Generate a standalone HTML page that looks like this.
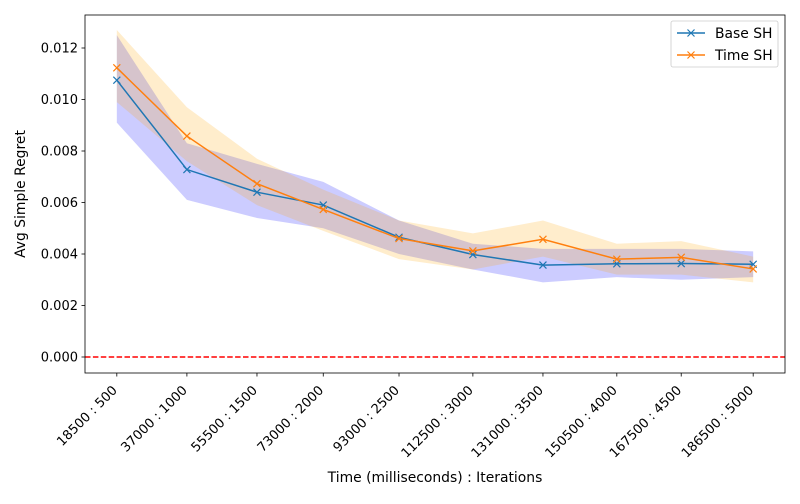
<!DOCTYPE html>
<html><head><meta charset="utf-8"><style>
body{margin:0;background:#fff;font-family:"DejaVu Sans",sans-serif}
svg text{font-family:"DejaVu Sans","Liberation Sans",sans-serif;fill:#000}
</style></head><body>
<svg id="chart" width="800" height="500"></svg>
<script>
const timesMs=[18500,37000,55500,73000,93000,112500,131000,150500,167500,186500];
const iterations=[500,1000,1500,2000,2500,3000,3500,4000,4500,5000];
const baseMean=[0.01075,0.00728,0.0064,0.0059,0.00465,0.00398,0.00357,0.00362,0.00363,0.0036];
const baseUpper=[0.0125,0.0083,0.0075,0.0068,0.0053,0.0044,0.0042,0.0042,0.0042,0.0041];
const baseLower=[0.0091,0.0061,0.0054,0.0050,0.0040,0.0034,0.0029,0.0031,0.0030,0.0031];
const timeMean=[0.01123,0.00858,0.00673,0.00573,0.0046,0.00412,0.00457,0.0038,0.00387,0.00342];
const timeUpper=[0.0127,0.0097,0.0077,0.0065,0.0053,0.0048,0.0053,0.0044,0.0045,0.0039];
const timeLower=[0.0099,0.0076,0.0059,0.0049,0.0038,0.0034,0.0039,0.0032,0.0032,0.0029];
const yTicks=[0,0.002,0.004,0.006,0.008,0.010,0.012];

const NS="http://www.w3.org/2000/svg";
const svg=document.getElementById('chart');
const L=85,R=785,T=15,B=373;
const xmin=timesMs[0],xmax=timesMs[timesMs.length-1],pad=(xmax-xmin)*0.05;
const xs=v=>L+(v-(xmin-pad))/((xmax+pad)-(xmin-pad))*(R-L);
const ys=v=>357-v/0.012*(357-48);
function el(tag,attrs,parent){const e=document.createElementNS(NS,tag);for(const k in attrs)e.setAttribute(k,attrs[k]);(parent||svg).appendChild(e);return e;}

function band(up,lo,fill,name){
  let d='M'+timesMs.map((t,i)=>xs(t)+','+ys(up[i])).join('L');
  for(let i=timesMs.length-1;i>=0;i--)d+='L'+xs(timesMs[i])+','+ys(lo[i]);
  const p=el('path',{d:d+'Z',fill:fill,'fill-opacity':0.2});
  
  
}
band(baseUpper,baseLower,'#0000ff','base-sh-band');
band(timeUpper,timeLower,'#ffa500','time-sh-band');

const zl=el('line',{x1:L,x2:R,y1:ys(0),y2:ys(0),stroke:'#ff0000','stroke-width':1.5,'stroke-dasharray':'5.5,2.4'});



function series(vals,color,name){
  const g=el('g',{});
  
  
  el('polyline',{points:timesMs.map((t,i)=>xs(t)+','+ys(vals[i])).join(' '),fill:'none',stroke:color,'stroke-width':1.5},g);
  timesMs.forEach((t,i)=>{const x=xs(t),y=ys(vals[i]);
    const m=el('path',{d:`M${x-3.5},${y-3.5}L${x+3.5},${y+3.5}M${x-3.5},${y+3.5}L${x+3.5},${y-3.5}`,stroke:color,'stroke-width':1.2},g);
    
    });
}
series(baseMean,'#1f77b4','base-sh-line');
series(timeMean,'#ff7f0e','time-sh-line');

const frame=el('rect',{x:L,y:T,width:R-L,height:B-T,fill:'none',stroke:'#000','stroke-width':0.8});



yTicks.forEach(v=>{const y=ys(v);
  el('line',{x1:L-3.5,x2:L,y1:y,y2:y,stroke:'#000','stroke-width':0.8});
  const t=el('text',{x:L-7,y:y+4.5,'text-anchor':'end','font-size':13});
  t.textContent=v.toFixed(3);
  
  });
timesMs.forEach((tm,i)=>{const x=xs(tm);
  el('line',{x1:x,x2:x,y1:B,y2:B+3.5,stroke:'#000','stroke-width':0.8});
  const ax=x+1,ay=B+18;
  const t=el('text',{x:ax,y:ay,'text-anchor':'end','font-size':13,transform:`rotate(-45 ${ax} ${ay})`});
  t.textContent=tm+' : '+iterations[i];
  
  });

const xt=el('text',{x:(L+R)/2,y:482,'text-anchor':'middle','font-size':13.9});
xt.textContent='Time (milliseconds) : Iterations';


const yt=el('text',{x:25,y:(T+B)/2,'text-anchor':'middle','font-size':13.9,transform:`rotate(-90 25 ${(T+B)/2})`});
yt.textContent='Avg Simple Regret';



const lg=el('g',{});


el('rect',{x:671,y:21,width:107,height:46,rx:2,fill:'#fff','fill-opacity':0.8,stroke:'#ccc','stroke-width':0.8},lg);
[['Base SH','#1f77b4',33],['Time SH','#ff7f0e',55]].forEach(([n,c,y])=>{
  const e=el('g',{},lg);
  
  
  el('line',{x1:677,x2:705,y1:y,y2:y,stroke:c,'stroke-width':1.5},e);
  el('path',{d:`M687.5,${y-3.5}L694.5,${y+3.5}M687.5,${y+3.5}L694.5,${y-3.5}`,stroke:c,'stroke-width':1.2},e);
  const t=el('text',{x:715,y:y+5,'font-size':13.9},e);t.textContent=n;});
</script>
</body></html>
